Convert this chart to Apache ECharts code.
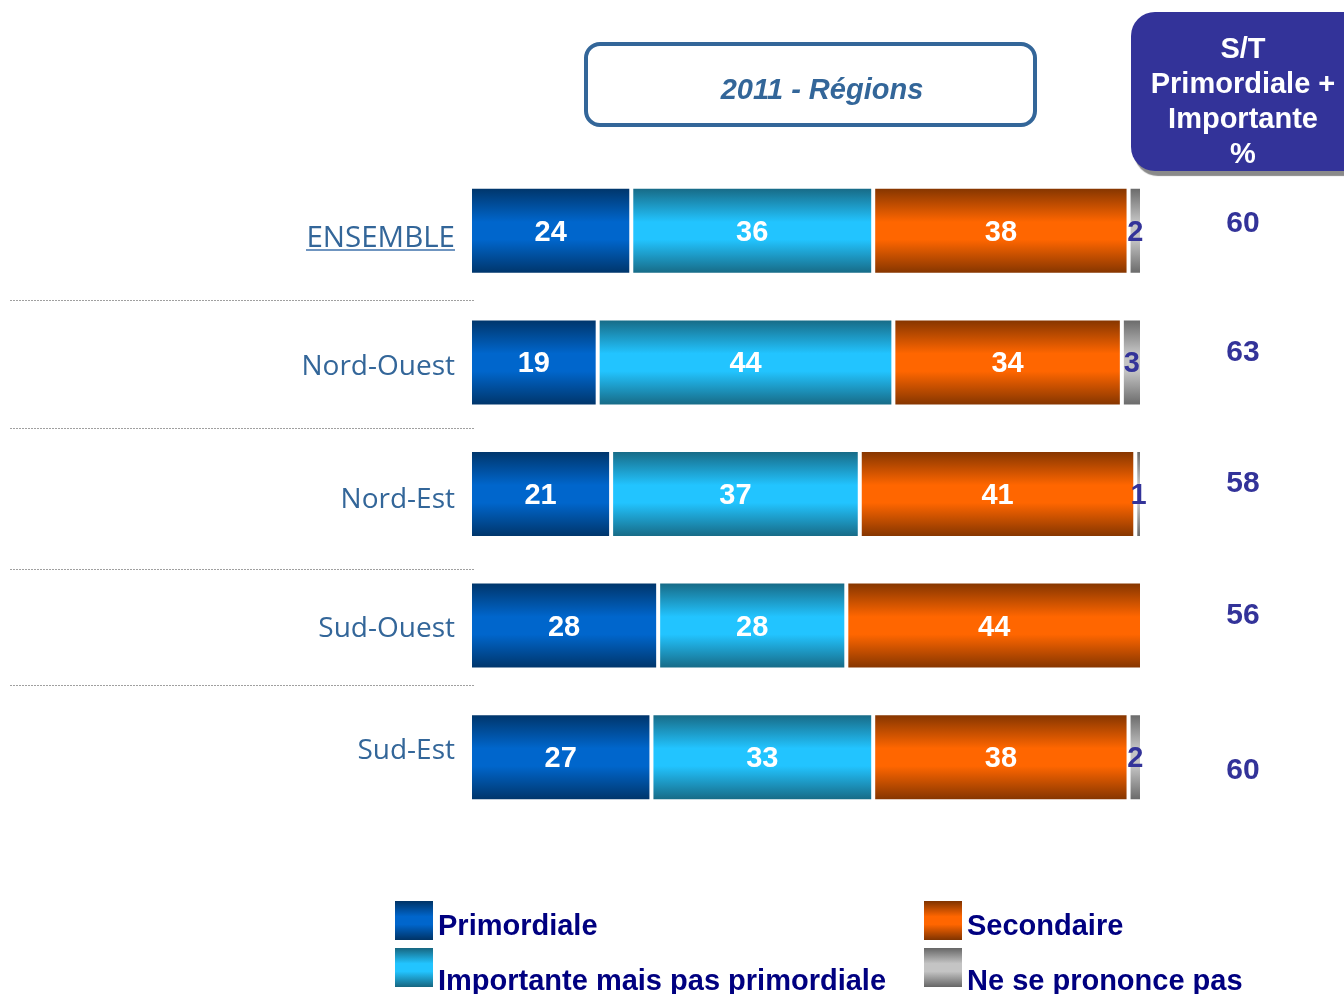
<!DOCTYPE html>
<html>
<head>
<meta charset="utf-8">
<script src="https://cdn.jsdelivr.net/npm/echarts@6/dist/echarts.min.js"></script>
<style>
html,body{margin:0;padding:0;background:#fff;}
#chart{width:1344px;height:994px;}
</style>
</head>
<body>
<div id="chart"></div>
<script>
const categories = ['ENSEMBLE', 'Nord-Ouest', 'Nord-Est', 'Sud-Ouest', 'Sud-Est'];
const primordiale = [24, 19, 21, 28, 27];
const importante = [36, 44, 37, 28, 33];
const secondaire = [38, 34, 41, 44, 38];
const nsp = [2, 3, 1, 0, 2];
const stValues = [60, 63, 58, 56, 60];
const seriesNames = ['Primordiale', 'Importante mais pas primordiale', 'Secondaire', 'Ne se prononce pas'];
const headerTitle = '2011 - Régions';
const stTitle = 'S/T\nPrimordiale +\nImportante\n%';

function grad(edge, mid) {
  return new echarts.graphic.LinearGradient(0, 0, 0, 1, [
    { offset: 0, color: edge },
    { offset: 0.4, color: mid },
    { offset: 0.6, color: mid },
    { offset: 1, color: edge }
  ]);
}
const colors = [
  grad('#003366', '#0066cc'),
  grad('#176680', '#22c4ff'),
  grad('#7f3300', '#ff6600'),
  grad('#666666', '#c4c4c4')
];
const values = [primordiale, importante, secondaire, nsp];

const chart = echarts.init(document.getElementById('chart'), null, { renderer: 'canvas' });

const series = values.map((arr, k) => ({
  name: seriesNames[k],
  type: 'bar',
  stack: 'total',
  barWidth: 88,
  data: arr,
  itemStyle: { color: colors[k], borderColor: '#ffffff', borderWidth: 2 },
  label: {
    show: true,
    position: 'inside',
    offset: [0, 2],
    formatter: p => (p.value > 0 ? String(p.value) : ''),
    color: k === 3 ? '#333399' : '#ffffff',
    fontFamily: 'Liberation Sans',
    fontWeight: 'bold',
    fontSize: 29
  },
  emphasis: { disabled: true }
}));

const catPad = { r0: [16, 0, 0, 0], r1: [10, 0, 0, 0], r2: [12, 0, 0, 0], r3: [6, 0, 0, 0], r4: [0, 0, 12, 0] };
const stPad = { s0: [0, 0, 14, 0], s1: [0, 0, 20, 0], s2: [0, 0, 20, 0], s3: [0, 0, 20, 0], s4: [28, 0, 0, 0] };
const catRich = {}, stRich = {};
Object.keys(catPad).forEach(k => catRich[k] = { padding: catPad[k], fontFamily: 'Open Sans', fontSize: k === 'r0' ? 29.5 : 28, color: '#336699' });
Object.keys(stPad).forEach(k => stRich[k] = { padding: stPad[k], fontFamily: 'Liberation Sans', fontWeight: 'bold', fontSize: 30, color: '#333399' });

function legendAt(name, left, top, pad) {
  return {
    data: [name],
    left: left, top: top, padding: 0,
    icon: 'rect', itemWidth: 38, itemHeight: 39,
    itemStyle: { borderWidth: 0 },
    selectedMode: false,
    formatter: n => `{t|${n}}`,
    textStyle: {
      color: '#000080', fontFamily: 'Liberation Sans', fontWeight: 'bold', fontSize: 29,
      rich: { t: { padding: pad, color: '#000080', fontFamily: 'Liberation Sans', fontWeight: 'bold', fontSize: 29 } }
    }
  };
}

const sepY = [300.5, 428.5, 569.5, 685.5];
const graphics = [
  { type: 'rect', shape: { x: 586, y: 44, width: 449, height: 81, r: 14 }, style: { fill: '#ffffff', stroke: '#336699', lineWidth: 4 } },
  { type: 'text', x: 822, y: 91, style: { text: headerTitle, align: 'center', verticalAlign: 'middle', font: 'italic bold 29px "Liberation Sans"', fill: '#336699' } },
  { type: 'rect', shape: { x: 1131, y: 12, width: 240, height: 159, r: 24 }, style: { fill: '#333399', shadowColor: '#8a8a8a', shadowOffsetX: 3, shadowOffsetY: 5, shadowBlur: 1 } },
  { type: 'text', x: 1243, y: 102, style: { text: stTitle, align: 'center', verticalAlign: 'middle', font: 'bold 29px "Liberation Sans"', lineHeight: 35, fill: '#ffffff' } },
  { type: 'line', shape: { x1: 306, y1: 250, x2: 455, y2: 250 }, style: { stroke: '#6f95c0', lineWidth: 2 } }
];
sepY.forEach(y => graphics.push({ type: 'line', shape: { x1: 10, y1: y, x2: 474, y2: y }, style: { stroke: '#a0a0a0', lineWidth: 1, lineDash: [2, 1] } }));

chart.setOption({
  backgroundColor: '#ffffff',
  animation: false,
  grid: { left: 470, right: 202, top: 165, bottom: 171 },
  xAxis: { type: 'value', min: 0, max: 100, show: false },
  yAxis: [
    {
      type: 'category', data: categories, inverse: true,
      axisLine: { show: false }, axisTick: { show: false }, splitLine: { show: false },
      axisLabel: { margin: 15, formatter: (v, i) => `{r${i}|${v}}`, rich: catRich }
    },
    {
      type: 'category', data: categories, inverse: true, position: 'right',
      axisLine: { show: false }, axisTick: { show: false }, splitLine: { show: false },
      axisLabel: { margin: 101, align: 'center', formatter: (v, i) => `{s${i}|${stValues[i]}}`, rich: stRich }
    }
  ],
  legend: [
    legendAt(seriesNames[0], 395, 901, [13, 0, 0, 0]),
    legendAt(seriesNames[1], 395, 948, [28, 0, 0, 0]),
    legendAt(seriesNames[2], 924, 901, [13, 0, 0, 0]),
    legendAt(seriesNames[3], 924, 948, [28, 0, 0, 0])
  ],
  series: series,
  graphic: graphics
});
</script>
</body>
</html>
